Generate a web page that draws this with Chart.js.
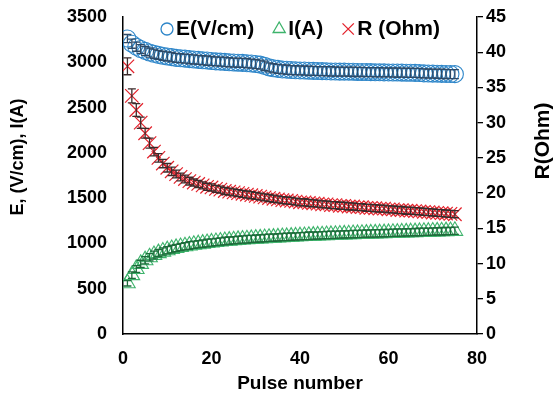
<!doctype html>
<html lang="en">
<head>
    <title>Pulse number vs E, I, R</title>
    <script src="https://cdn.jsdelivr.net/npm/chart.js@4.4.1/dist/chart.umd.min.js"></script>
    <style>
        body { margin: 0; background: #fff; }
        #wrap { width: 555px; height: 399px; }
    </style>
</head>
<body>
<div id="wrap"><canvas id="chart"></canvas></div>

<script>
    // pulse numbers (x)
    const pulses = [
        1, 2, 3, 4, 5, 6, 7, 8, 9, 10, 11, 12, 13, 14, 15, 16, 17, 18, 19, 20,
        21, 22, 23, 24, 25, 26, 27, 28, 29, 30, 31, 32, 33, 34, 35, 36, 37, 38, 39, 40,
        41, 42, 43, 44, 45, 46, 47, 48, 49, 50, 51, 52, 53, 54, 55, 56, 57, 58, 59, 60,
        61, 62, 63, 64, 65, 66, 67, 68, 69, 70, 71, 72, 73, 74, 75
    ];

    // E (V/cm), left axis
    const eField = [
        3262, 3205, 3172, 3146, 3126, 3108, 3094, 3082, 3072, 3064, 3057, 3049, 3044, 3040, 3035, 3031, 3027, 3022, 3019, 3014,
        3010, 3007, 3004, 3000, 2997, 2995, 2993, 2990, 2986, 2981, 2974, 2960, 2944, 2934, 2927, 2921, 2918, 2914, 2912, 2910,
        2909, 2906, 2905, 2903, 2902, 2901, 2899, 2898, 2897, 2897, 2896, 2895, 2893, 2893, 2892, 2891, 2890, 2890, 2889, 2888,
        2887, 2887, 2886, 2884, 2884, 2883, 2881, 2878, 2876, 2875, 2874, 2872, 2871, 2870, 2869
    ];
    const eErr = [
        45, 50, 50, 48, 50, 50, 52, 50, 50, 50, 52, 50, 50, 50, 52, 50, 50, 50, 52, 50,
        50, 50, 52, 50, 50, 50, 50, 52, 50, 50, 50, 52, 50, 50, 50, 50, 52, 50, 50, 50,
        50, 52, 50, 50, 50, 50, 52, 50, 50, 50, 50, 52, 50, 50, 50, 50, 52, 50, 50, 50,
        50, 52, 50, 50, 50, 50, 52, 50, 50, 50, 50, 52, 50, 50, 50
    ];

    // I (A), left axis
    const current = [
        560, 650, 718, 774, 815, 847, 872, 893, 910, 925, 938, 950, 960, 969, 977, 985, 992, 998, 1005, 1011,
        1016, 1021, 1026, 1031, 1035, 1039, 1043, 1046, 1050, 1053, 1056, 1059, 1062, 1064, 1067, 1070, 1072, 1075, 1077, 1080,
        1082, 1084, 1086, 1088, 1090, 1092, 1094, 1096, 1098, 1100, 1101, 1103, 1105, 1107, 1108, 1110, 1111, 1113, 1114, 1116,
        1117, 1119, 1121, 1122, 1124, 1125, 1127, 1128, 1130, 1131, 1133, 1134, 1136, 1137, 1139
    ];
    const iErr = [
        30, 35, 38, 40, 40, 40, 42, 40, 40, 40, 42, 40, 40, 40, 42, 40, 40, 40, 42, 40,
        40, 40, 42, 40, 40, 40, 40, 42, 40, 40, 40, 42, 40, 40, 40, 40, 42, 40, 40, 40,
        40, 42, 40, 40, 40, 40, 42, 40, 40, 40, 40, 42, 40, 40, 40, 40, 42, 40, 40, 40,
        40, 42, 40, 40, 40, 40, 42, 40, 40, 40, 40, 42, 40, 40, 40
    ];

    // R (Ohm), right axis
    const resistance = [
        38.0, 33.8, 31.8, 30.0, 28.5, 27.1, 25.9, 25.0, 24.2, 23.6, 23.1, 22.7, 22.3, 22.0, 21.7, 21.5, 21.3, 21.1, 20.9, 20.8,
        20.6, 20.5, 20.3, 20.2, 20.1, 20.0, 19.9, 19.8, 19.7, 19.6, 19.5, 19.4, 19.3, 19.2, 19.1, 19.0, 18.95, 18.9, 18.8, 18.7,
        18.7, 18.6, 18.55, 18.5, 18.4, 18.4, 18.3, 18.3, 18.2, 18.2, 18.1, 18.1, 18.0, 18.0, 17.9, 17.9, 17.85, 17.8, 17.8, 17.7,
        17.7, 17.6, 17.6, 17.5, 17.5, 17.45, 17.4, 17.35, 17.3, 17.25, 17.2, 17.15, 17.1, 17.05, 17.0
    ];
    const rErr = [
        1.2, 1.0, 0.9, 0.8, 0.7, 0.7, 0.6, 0.6, 0.6, 0.6, 0.6, 0.55, 0.55, 0.55, 0.55, 0.5, 0.5, 0.5, 0.5, 0.5,
        0.5, 0.5, 0.5, 0.5, 0.5, 0.5, 0.5, 0.5, 0.5, 0.5, 0.5, 0.5, 0.5, 0.5, 0.5, 0.5, 0.5, 0.5, 0.5, 0.5,
        0.5, 0.5, 0.5, 0.5, 0.5, 0.5, 0.5, 0.5, 0.5, 0.5, 0.5, 0.5, 0.5, 0.5, 0.5, 0.5, 0.5, 0.5, 0.5, 0.5,
        0.5, 0.5, 0.5, 0.5, 0.5, 0.5, 0.5, 0.5, 0.5, 0.5, 0.5, 0.5, 0.5, 0.5, 0.5
    ];

    const xTicks = [0, 20, 40, 60, 80];
    const leftTicks = [0, 500, 1000, 1500, 2000, 2500, 3000, 3500];
    const rightTicks = [0, 5, 10, 15, 20, 25, 30, 35, 40, 45];

    const fontFamily = "'Liberation Sans', Arial, sans-serif";
    Chart.defaults.font.family = fontFamily;
    Chart.defaults.color = '#000';

    const toPoints = (ys) => pulses.map((p, i) => ({x: p, y: ys[i]}));
    const plain = (v) => String(v);

    // draws vertical error bars with caps, through the dataset's y scale
    const errorBars = {
        id: 'errorBars',
        afterDatasetsDraw(chart) {
            const ctx = chart.ctx;
            chart.data.datasets.forEach((ds, di) => {
                const meta = chart.getDatasetMeta(di);
                const yScale = chart.scales[ds.yAxisID];
                ctx.save();
                ctx.strokeStyle = ds.errColor;
                ctx.lineWidth = 1.3;
                meta.data.forEach((pt, i) => {
                    const v = ds.data[i].y, e = ds.errors[i];
                    const y1 = yScale.getPixelForValue(v + e);
                    const y2 = yScale.getPixelForValue(v - e);
                    ctx.beginPath();
                    ctx.moveTo(pt.x, y1); ctx.lineTo(pt.x, y2);
                    ctx.moveTo(pt.x - 4, y1); ctx.lineTo(pt.x + 4, y1);
                    ctx.moveTo(pt.x - 4, y2); ctx.lineTo(pt.x + 4, y2);
                    ctx.stroke();
                });
                ctx.restore();
            });
        }
    };

    // legend inside the top of the plot, plus the two rotated y titles
    const extras = {
        id: 'extras',
        afterDraw(chart) {
            const {ctx, chartArea} = chart;
            ctx.save();
            ctx.font = 'bold 21px ' + fontFamily;
            ctx.textBaseline = 'middle';
            let x = chartArea.left + 44;
            const y = chartArea.top + 12;
            chart.data.datasets.forEach((ds) => {
                ctx.fillStyle = 'rgba(0,0,0,0)';
                ctx.strokeStyle = ds.borderColor;
                ctx.lineWidth = 1.3;
                Chart.helpers.drawPoint(ctx, {pointStyle: ds.pointStyle, radius: ds.legendRadius, borderWidth: 1.3, rotation: 0}, x, y);
                ctx.fillStyle = '#000';
                ctx.textAlign = 'left';
                ctx.fillText(ds.label, x + 9, y);
                x += 9 + ctx.measureText(ds.label).width + 25;
            });

            ctx.textAlign = 'center';
            ctx.font = 'bold 18px ' + fontFamily;
            ctx.save();
            ctx.translate(18, chartArea.top + 140);
            ctx.rotate(-Math.PI / 2);
            ctx.fillText('E, (V/cm), I(A)', 0, 0);
            ctx.restore();

            ctx.font = 'bold 21px ' + fontFamily;
            ctx.save();
            ctx.translate(543, chartArea.top + 124);
            ctx.rotate(-Math.PI / 2);
            ctx.fillText('R(Ohm)', 0, 0);
            ctx.restore();
            ctx.restore();
        }
    };

    new Chart(document.getElementById('chart'), {
        type: 'scatter',
        data: {
            datasets: [
                {
                    label: 'E(V/cm)',
                    data: toPoints(eField),
                    errors: eErr,
                    errColor: '#2d4a68',
                    yAxisID: 'y',
                    pointStyle: 'circle',
                    pointRadius: 8.5,
                    legendRadius: 6,
                    borderWidth: 1.1,
                    borderColor: '#2e86c9',
                    backgroundColor: 'rgba(0,0,0,0)',
                },
                {
                    label: 'I(A)',
                    data: toPoints(current),
                    errors: iErr,
                    errColor: '#1d6b3a',
                    yAxisID: 'y',
                    pointStyle: 'triangle',
                    pointRadius: 9,
                    legendRadius: 7,
                    borderWidth: 1.1,
                    borderColor: '#3db36b',
                    backgroundColor: 'rgba(0,0,0,0)',
                },
                {
                    label: 'R (Ohm)',
                    data: toPoints(resistance),
                    errors: rErr,
                    errColor: '#3a2a2a',
                    yAxisID: 'y1',
                    pointStyle: 'crossRot',
                    pointRadius: 9.5,
                    legendRadius: 8,
                    borderWidth: 1.2,
                    borderColor: '#e3202a',
                    backgroundColor: 'rgba(0,0,0,0)',
                },
            ],
        },
        options: {
            responsive: true,
            maintainAspectRatio: false,
            animation: false,
            layout: {padding: {top: 17, left: 0, right: 0, bottom: 0}},
            plugins: {
                legend: {display: false},
                tooltip: {enabled: false},
            },
            scales: {
                x: {
                    type: 'linear',
                    min: 0,
                    max: 80,
                    afterBuildTicks: (s) => { s.ticks = xTicks.map(v => ({value: v})); },
                    afterFit: (s) => { s.height = 65; },
                    grid: {display: false, drawTicks: false},
                    border: {display: true, color: '#000', width: 1.5},
                    ticks: {font: {size: 18, weight: 'bold'}, padding: 14, callback: plain},
                    title: {
                        display: true,
                        text: 'Pulse number',
                        font: {size: 19, weight: 'bold'},
                        padding: {top: 0, bottom: 4},
                    },
                },
                y: {
                    position: 'left',
                    min: 0,
                    max: 3500,
                    afterBuildTicks: (s) => { s.ticks = leftTicks.map(v => ({value: v})); },
                    afterFit: (s) => { s.width = 123; },
                    // invisible tick marks only to push the labels away from the axis
                    grid: {display: true, drawOnChartArea: false, drawTicks: true, tickLength: 14, tickColor: 'rgba(0,0,0,0)'},
                    border: {display: true, color: '#000', width: 1.5},
                    ticks: {font: {size: 18, weight: 'bold'}, padding: 2, callback: plain},
                },
                y1: {
                    position: 'right',
                    min: 0,
                    max: 45,
                    afterBuildTicks: (s) => { s.ticks = rightTicks.map(v => ({value: v})); },
                    afterFit: (s) => { s.width = 78; },
                    grid: {display: true, drawOnChartArea: false, drawTicks: true, tickLength: 6, color: '#000', lineWidth: 1.3},
                    border: {display: true, color: '#000', width: 1.5},
                    ticks: {font: {size: 18, weight: 'bold'}, padding: 3, callback: plain},
                },
            },
        },
        plugins: [errorBars, extras],
    });
</script>
</body>
</html>
